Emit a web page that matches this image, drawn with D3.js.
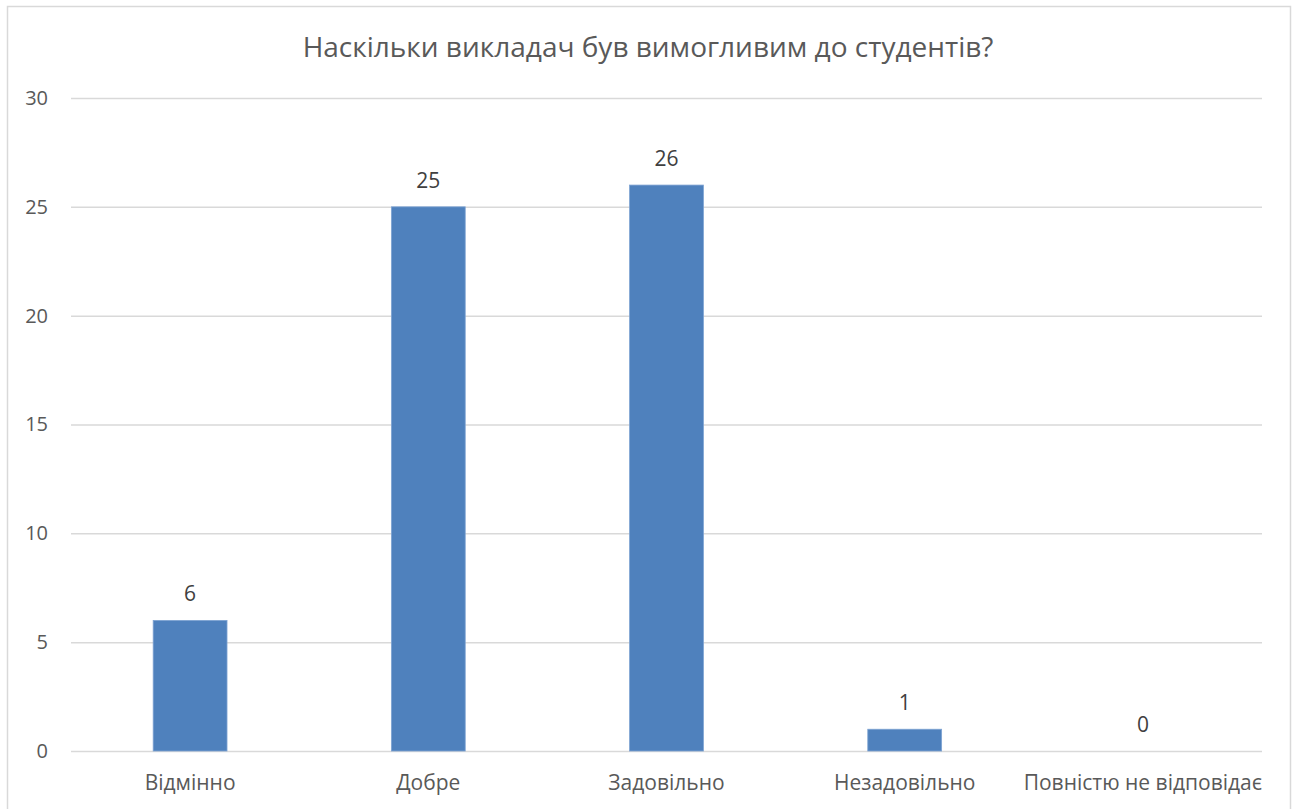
<!DOCTYPE html>
<html>
<head>
<meta charset="utf-8">
<script src="https://cdn.jsdelivr.net/npm/d3@7"></script>
<style>
  body { margin: 0; background: #fff; }
  svg { display: block; font-family: "Open Sans", "Noto Sans", sans-serif; }
</style>
</head>
<body>
<div id="chart"></div>
<script>
// Chart data
var title = "Наскільки викладач був вимогливим до студентів?";
var categories = ["Відмінно", "Добре", "Задовільно", "Незадовільно", "Повністю не відповідає"];
var values = [6, 25, 26, 1, 0];
var yTicks = [0, 5, 10, 15, 20, 25, 30];

var width = 1298, height = 809;
var margin = { left: 71, right: 36, top: 98, bottom: 58 };

var svg = d3.select("#chart").append("svg")
    .attr("width", width)
    .attr("height", height);

// Outer chart border
svg.append("rect")
    .attr("x", 7.5)
    .attr("y", 6.5)
    .attr("width", 1283)
    .attr("height", 820)
    .attr("fill", "#fff")
    .attr("stroke", "#d9d9d9")
    .attr("stroke-width", 1.5);

var x = d3.scaleBand()
    .domain(categories)
    .range([margin.left, width - margin.right])
    .paddingInner(0.69)
    .paddingOuter(0.345);

var y = d3.scaleLinear()
    .domain([0, 30])
    .range([height - margin.bottom, margin.top]);

// Clip for labels that overflow the plot area
svg.append("clipPath")
    .attr("id", "plotClip")
    .append("rect")
    .attr("x", 0)
    .attr("y", 0)
    .attr("width", width - margin.right)
    .attr("height", height);

// Gridlines
svg.append("g")
    .selectAll("line")
    .data(yTicks)
    .join("line")
    .attr("x1", margin.left)
    .attr("x2", width - margin.right)
    .attr("y1", d => y(d) + 0.5)
    .attr("y2", d => y(d) + 0.5)
    .attr("stroke", "#d9d9d9")
    .attr("stroke-width", 1.5);

// Y axis labels
var yAxis = svg.append("g")
    .attr("transform", `translate(${margin.left},0)`)
    .call(d3.axisLeft(y).tickValues(yTicks).tickSize(0).tickPadding(23));
yAxis.select(".domain").remove();
yAxis.selectAll("text")
    .attr("fill", "#595959")
    .style("font-size", "20px")
    .style("font-family", "Open Sans");

// Bars
svg.append("g")
    .selectAll("rect")
    .data(values)
    .join("rect")
    .attr("x", (d, i) => x(categories[i]))
    .attr("y", d => y(d))
    .attr("width", x.bandwidth())
    .attr("height", d => y(0) - y(d))
    .attr("fill", "#4f81bd")
    .attr("stroke", "#7ea3d3")
    .attr("stroke-width", 0.8);

// Data labels
svg.append("g")
    .selectAll("text")
    .data(values)
    .join("text")
    .attr("x", (d, i) => x(categories[i]) + x.bandwidth() / 2)
    .attr("y", d => y(d) - 19)
    .attr("text-anchor", "middle")
    .attr("fill", "#404040")
    .style("font-size", "21px")
    .text(d => d);

// X axis labels
var xAxis = svg.append("g")
    .attr("transform", `translate(0,${y(0)})`)
    .attr("clip-path", "url(#plotClip)")
    .call(d3.axisBottom(x).tickSize(0).tickPadding(24));
xAxis.select(".domain").remove();
xAxis.selectAll("text")
    .attr("fill", "#595959")
    .style("font-size", "21px")
    .style("font-family", "Open Sans");

// Title
svg.append("text")
    .attr("x", 648)
    .attr("y", 57)
    .attr("text-anchor", "middle")
    .attr("fill", "#595959")
    .style("font-size", "28px")
    .text(title);
</script>
</body>
</html>
